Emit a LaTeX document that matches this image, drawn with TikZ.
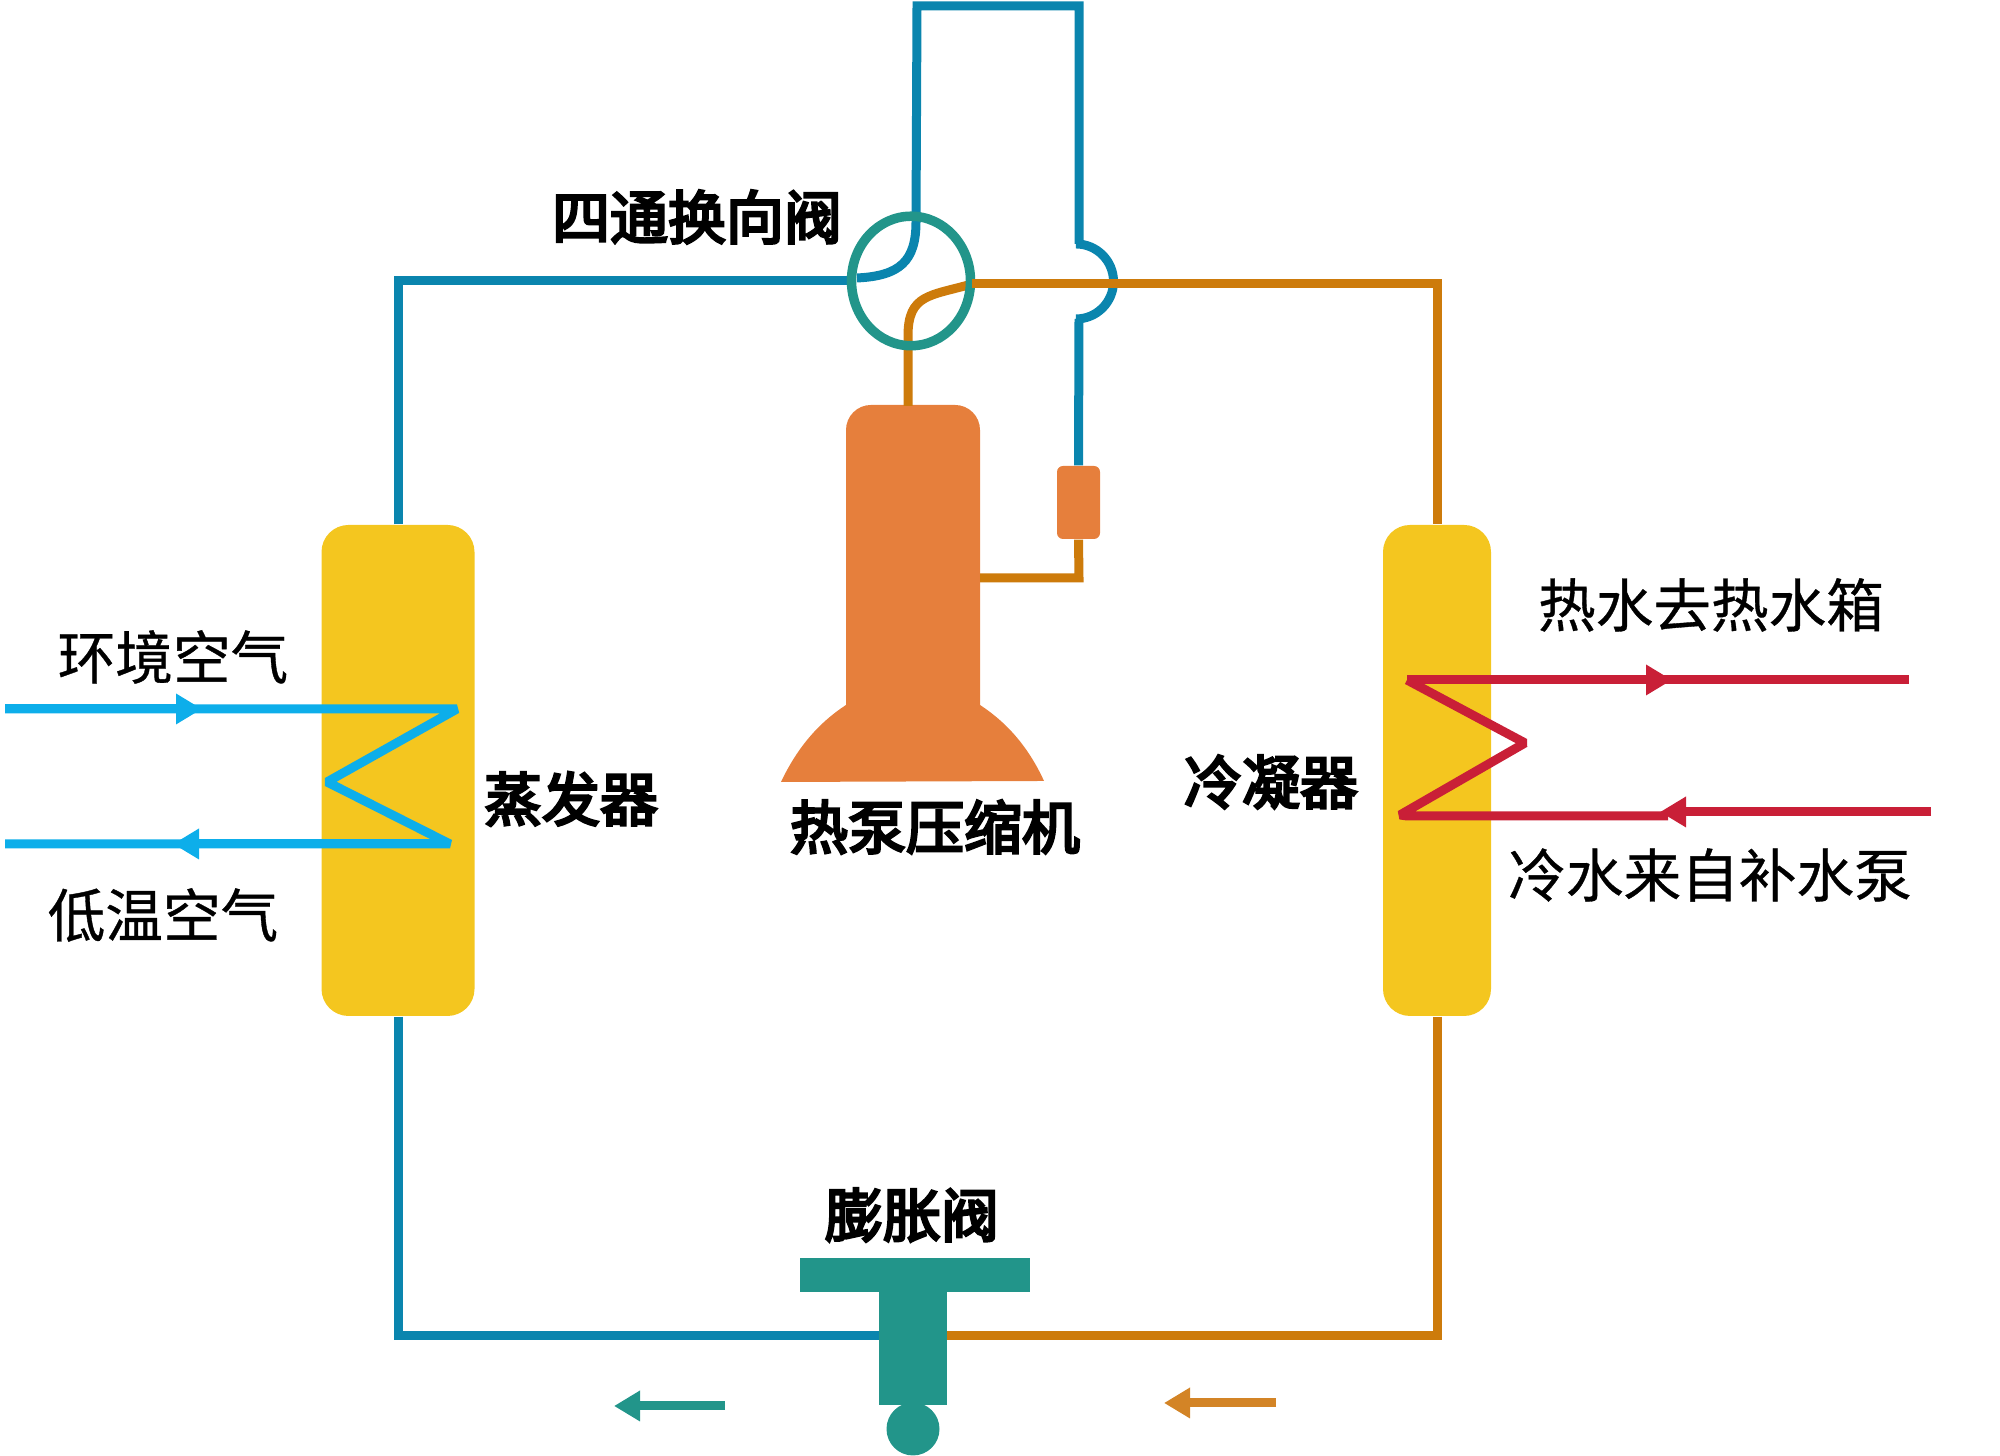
\documentclass[tikz,border=0pt]{standalone}
\usepackage{fontspec}
\usepackage{tikz}
\usetikzlibrary{shapes.geometric, arrows.meta, positioning, calc}
\newfontfamily\cjk[FakeBold=.6]{Noto Sans CJK SC}
\newfontfamily\cjkheavy[FakeBold=4.5]{Noto Sans CJK SC}
\definecolor{coldblue}{HTML}{0A85AE}
\definecolor{hotorange}{HTML}{CD7B0B}
\definecolor{valveteal}{HTML}{22958A}
\definecolor{compfill}{HTML}{E67F3C}
\definecolor{tankyellow}{HTML}{F4C61F}
\definecolor{airblue}{HTML}{0DAEEA}
\definecolor{waterred}{HTML}{C91F37}
\definecolor{flowarrow}{HTML}{D38426}

\begin{document}
\begin{tikzpicture}[
    tank/.style={fill=tankyellow, rounded corners=.27cm, minimum height=4.91cm, inner sep=0pt},
    coldpipe/.style={draw=coldblue, line width=.09cm},
    hotpipe/.style={draw=hotorange, line width=.09cm},
    airline/.style={draw=airblue, line width=.09cm, line join=bevel},
    waterline/.style={draw=waterred, line width=.09cm, line join=bevel},
    headtip/.style={-{Triangle[length=.26cm,width=.29cm]}},
    partlabel/.style={font=\cjkheavy\fontsize{16.5}{20}\selectfont, inner sep=0pt},
    medialabel/.style={font=\cjk\fontsize{16.4}{20}\selectfont, inner sep=0pt}]
    \useasboundingbox (0,0) rectangle (20,14.56);

    % vessels
    \node[tank, minimum width=1.53cm] (evap) at (3.98,6.855) {};
    \node[tank, minimum width=1.08cm] (cond) at (14.37,6.855) {};
    \node[fill=compfill, rounded corners=.25cm, minimum width=1.34cm, minimum height=3.5cm, inner sep=0pt] (comp) at (9.13,8.76) {};
    \fill[compfill] (7.81,6.74) .. controls (7.98,7.1) and (8.2,7.34) .. (8.46,7.51)
        -- (9.8,7.51) .. controls (10.06,7.34) and (10.28,7.1) .. (10.44,6.75) -- cycle;
    \node[fill=compfill, rounded corners=.06cm, minimum width=.43cm, minimum height=.73cm, inner sep=0pt] (sep) at (10.785,9.535) {};

    % expansion valve
    \node[fill=valveteal, minimum width=.68cm, minimum height=1.13cm, inner sep=0pt] (stem) at (9.13,1.075) {};
    \node[fill=valveteal, minimum width=2.3cm, minimum height=.34cm, inner sep=0pt] (bar) at (9.15,1.81) {};
    \node[fill=valveteal, circle, minimum size=.53cm, inner sep=0pt] (ball) at (9.13,.27) {};

    \coordinate (valveleft) at (8.5,11.75);
    \coordinate (coldstart) at (8.57,11.78);
    \coordinate (coldtop) at (9.17,14.50);
    \coordinate (hotout) at (9.08,10.5);
    \coordinate (hotright) at (9.72,11.72);
    \coordinate (teeleft) at (8.79,1.2);
    \coordinate (teeright) at (9.47,1.2);
    \coordinate (sepbend) at (10.79,8.78);
    \coordinate (compside) at (9.8,8.78);

    % refrigerant loop
    \draw[coldpipe] (evap.north) |- (valveleft);
    \draw[coldpipe] (coldstart) .. controls (9,11.8) and (9.16,11.95) .. (9.16,12.34)
        -- (coldtop) -| (10.79,12.12) -- (10.76,12.12)
        arc[start angle=90, end angle=-90, radius=.375] -- (10.79,11.37) -- (sep.north);
    \draw[coldpipe] (evap.south) |- (teeleft);
    \draw[hotpipe] (hotout) -- (9.08,11.2) .. controls (9.08,11.62) and (9.3,11.6) .. (hotright);
    \draw[hotpipe] (hotright) -| (cond.north);
    \draw[hotpipe] (cond.south) |- (teeright);
    \draw[hotpipe] (sep.south) -- (sepbend) -- (compside);
    \node[draw=valveteal, line width=.095cm, ellipse, minimum width=1.19cm, minimum height=1.295cm, inner sep=0pt] (valve) at (9.11,11.75) {};
    \draw[hotpipe] (hotright) -- (9.85,11.72);

    % air side
    \coordinate (airin) at (.05,7.47);
    \coordinate (airmid) at (2.02,7.47);
    \coordinate (airout) at (.05,6.12);
    \coordinate (airturn) at (4.5,6.12);
    \coordinate (airback) at (1.73,6.12);
    \draw[airline] (airin) -- (4.57,7.47) -- (3.27,6.74) -- (airturn) -- (airout);
    \draw[airline, headtip] (airin) -- (airmid);
    \draw[airline, headtip] (airturn) -- (airback);

    % water side
    \coordinate (waterstart) at (14.07,7.76);
    \coordinate (waterout) at (19.09,7.76);
    \coordinate (watermid) at (16.72,7.76);
    \coordinate (waterin) at (19.31,6.44);
    \coordinate (waterback) at (16.6,6.44);
    \draw[waterline] (waterstart) -- (waterout);
    \draw[waterline, headtip] (waterstart) -- (watermid);
    \draw[waterline] (waterstart) -- (15.25,7.13) -- (14,6.41) -- (14.07,6.4) -- (16.68,6.4);
    \draw[waterline, headtip] (waterin) -- (waterback);

    % flow direction
    \coordinate (coldflow) at (7.25,.5);
    \coordinate (coldflowend) at (6.14,.5);
    \coordinate (hotflow) at (12.76,.53);
    \coordinate (hotflowend) at (11.64,.53);
    \draw[draw=valveteal, fill=valveteal, line width=.09cm, headtip] (coldflow) -- (coldflowend);
    \draw[draw=flowarrow, fill=flowarrow, line width=.09cm, headtip] (hotflow) -- (hotflowend);

    % labels
    \node[partlabel] (valvename) at (6.97,12.39) {四通换向阀};
    \node[partlabel] (compname) at (9.35,6.29) {热泵压缩机};
    \node[partlabel] (evapname) at (5.71,6.57) {蒸发器};
    \node[partlabel] (condname) at (12.71,6.74) {冷凝器};
    \node[partlabel] (expname) at (9.12,2.41) {膨胀阀};
    \node[medialabel] (airinname) at (1.73,7.99) {环境空气};
    \node[medialabel] (airoutname) at (1.63,5.41) {低温空气};
    \node[medialabel] (wateroutname) at (17.11,8.51) {热水去热水箱};
    \node[medialabel] (waterinname) at (17.1,5.81) {冷水来自补水泵};
\end{tikzpicture}
\end{document}
